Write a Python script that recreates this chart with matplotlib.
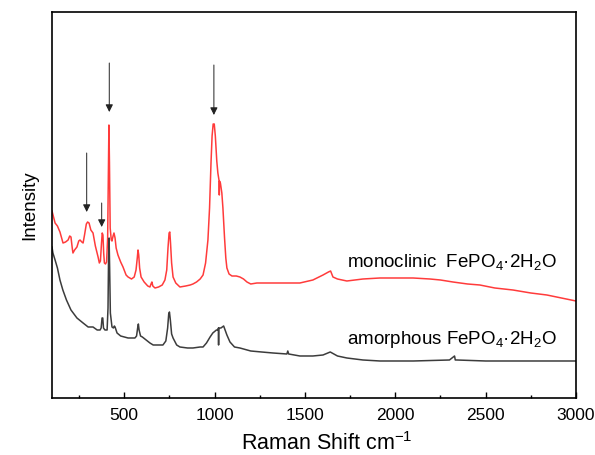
import matplotlib
matplotlib.use('Agg')
import matplotlib.pyplot as plt
from matplotlib.ticker import MultipleLocator

plt.rcParams['font.family'] = ['Liberation Sans', 'DejaVu Sans']
plt.rcParams['mathtext.default'] = 'regular'

RED = '#ff3b3b'
GRAY = '#3c3c3c'

# monoclinic FePO4.2H2O (arbitrary units)
mono_x = [100, 110, 117, 130, 144, 161, 175, 189, 198, 205, 212, 216, 225, 238, 248, 255, 265, 272,
          280, 290, 297, 305, 315, 327, 340, 355, 362, 368, 374, 378, 382, 386, 390, 396, 402, 408,
          412, 415, 418, 422, 428, 432, 438, 443, 449, 455, 465, 480, 493, 510, 521, 540, 555, 565,
          572, 576, 580, 585, 593, 610, 630, 642, 648, 653, 658, 670, 690, 710, 725, 735, 742, 748,
          752, 756, 762, 770, 785, 808, 840, 865, 880, 900, 920, 936, 950, 963, 972, 980, 986, 992,
          998, 1004, 1012, 1018, 1024, 1025, 1026, 1027, 1032, 1040, 1046, 1055, 1062, 1068, 1080,
          1096, 1120, 1140, 1160, 1179, 1200, 1234, 1280, 1323, 1400, 1472, 1544, 1600, 1630, 1642,
          1655, 1680, 1732, 1821, 1915, 2000, 2098, 2192, 2250, 2319, 2400, 2468, 2551, 2651, 2750,
          2839, 2920, 3000]
mono_y = [187, 180, 175, 172, 166, 155, 156, 158, 162, 161, 150, 145, 148, 151, 157, 158, 156, 155,
          163, 174, 176, 175, 168, 165, 152, 141, 135, 137, 155, 165, 163, 145, 135, 134, 136, 160,
          230, 273, 235, 170, 158, 157, 162, 165, 160, 150, 143, 136, 131, 123, 121, 119, 121, 128,
          140, 148, 143, 130, 121, 116, 112, 111, 114, 116, 112, 110, 111, 113, 118, 128, 150, 165,
          166, 155, 135, 121, 115, 111, 112, 113, 114, 116, 119, 123, 135, 158, 190, 235, 262, 274,
          274, 262, 237, 225, 218, 217, 203, 217, 215, 205, 190, 160, 140, 130, 124,
          122, 122, 121, 119, 116, 114, 115, 115, 115, 115, 115, 118, 123, 126, 127,
          121, 119, 117, 119, 120, 120, 120, 119, 118, 116, 114, 113, 110, 108, 105,
          103, 100, 97]

# amorphous FePO4.2H2O
amor_x = [100, 105, 117, 130, 144, 160, 180, 205, 238, 272, 300, 327, 350, 366, 372, 377, 381, 385,
          393, 405, 410, 413, 416, 419, 423, 432, 440, 445, 449, 460, 480, 521, 559, 568, 574, 578,
          582, 590, 600, 642, 660, 690, 714, 730, 740, 746, 750, 755, 762, 770, 790, 808, 850, 880,
          920, 936, 955, 975, 990, 1010, 1020, 1021, 1022, 1023, 1035, 1050, 1060, 1068, 1085, 1110,
          1140, 1200, 1260, 1323, 1400, 1405, 1410, 1472, 1544, 1600, 1640, 1680, 1732, 1821, 1915,
          2100, 2300, 2328, 2332, 2340, 2500, 2700, 3000]
amor_y = [151, 145, 138, 130, 118, 108, 98, 88, 80, 75, 71, 71, 68, 68, 70, 80, 80, 70,
          68, 68, 90, 140, 160, 130, 85, 71, 70, 72, 71, 65, 62, 60, 60, 62, 70, 74,
          68, 62, 61, 55, 53, 53, 53, 57, 70, 84, 86, 78, 64, 60, 53, 51, 50, 50,
          51, 51, 55, 61, 65, 68, 68, 70, 53, 70, 70, 72, 67, 63, 56, 51,
          50, 47, 46, 45, 44, 47, 44, 42, 42, 43, 46, 42, 40, 38, 37,
          37, 38, 42, 38, 38, 37, 37, 37]

# arrows marking the monoclinic bands: x, tail, head
arrow_x = [292, 375, 417, 996]
arrow_tail = [245, 195, 335, 333]
arrow_head = [186, 171, 286, 283]

fig = plt.figure(figsize=(5.95, 4.55), dpi=100)
ax = fig.add_axes([0.0874, 0.1253, 0.8806, 0.8483])

ax.plot(mono_x, mono_y, color=RED, lw=1.1)
ax.plot(amor_x, amor_y, color=GRAY, lw=1.1)

for x, t, h in zip(arrow_x, arrow_tail, arrow_head):
    ax.annotate('', xy=(x, h), xytext=(x, t),
                arrowprops=dict(arrowstyle='-|>', color='#222222', lw=0.7,
                                mutation_scale=11, shrinkA=0, shrinkB=0))

ax.text(1733, 136, 'monoclinic  FePO$_4$·2H$_2$O', fontsize=13.5, ha='left', va='center')
ax.text(1733, 58, 'amorphous FePO$_4$·2H$_2$O', fontsize=13.5, ha='left', va='center')

ax.set_xlim(100, 3000)
ax.set_ylim(0, 386)
ax.xaxis.set_major_locator(MultipleLocator(500))
ax.xaxis.set_minor_locator(MultipleLocator(250))
ax.tick_params(axis='x', which='major', direction='in', length=4, width=1, labelsize=12.5, pad=7)
ax.tick_params(axis='x', which='minor', direction='in', length=2.5, width=1)
ax.set_yticks([])
for s in ax.spines.values():
    s.set_linewidth(1.2)

ax.set_xlabel('Raman Shift cm$^{-1}$', fontsize=15.5, va='center')
ax.xaxis.set_label_coords(0.525, -0.118)
ax.set_ylabel('Intensity', fontsize=13.5, labelpad=10)

fig.savefig('out.png', dpi=100)
